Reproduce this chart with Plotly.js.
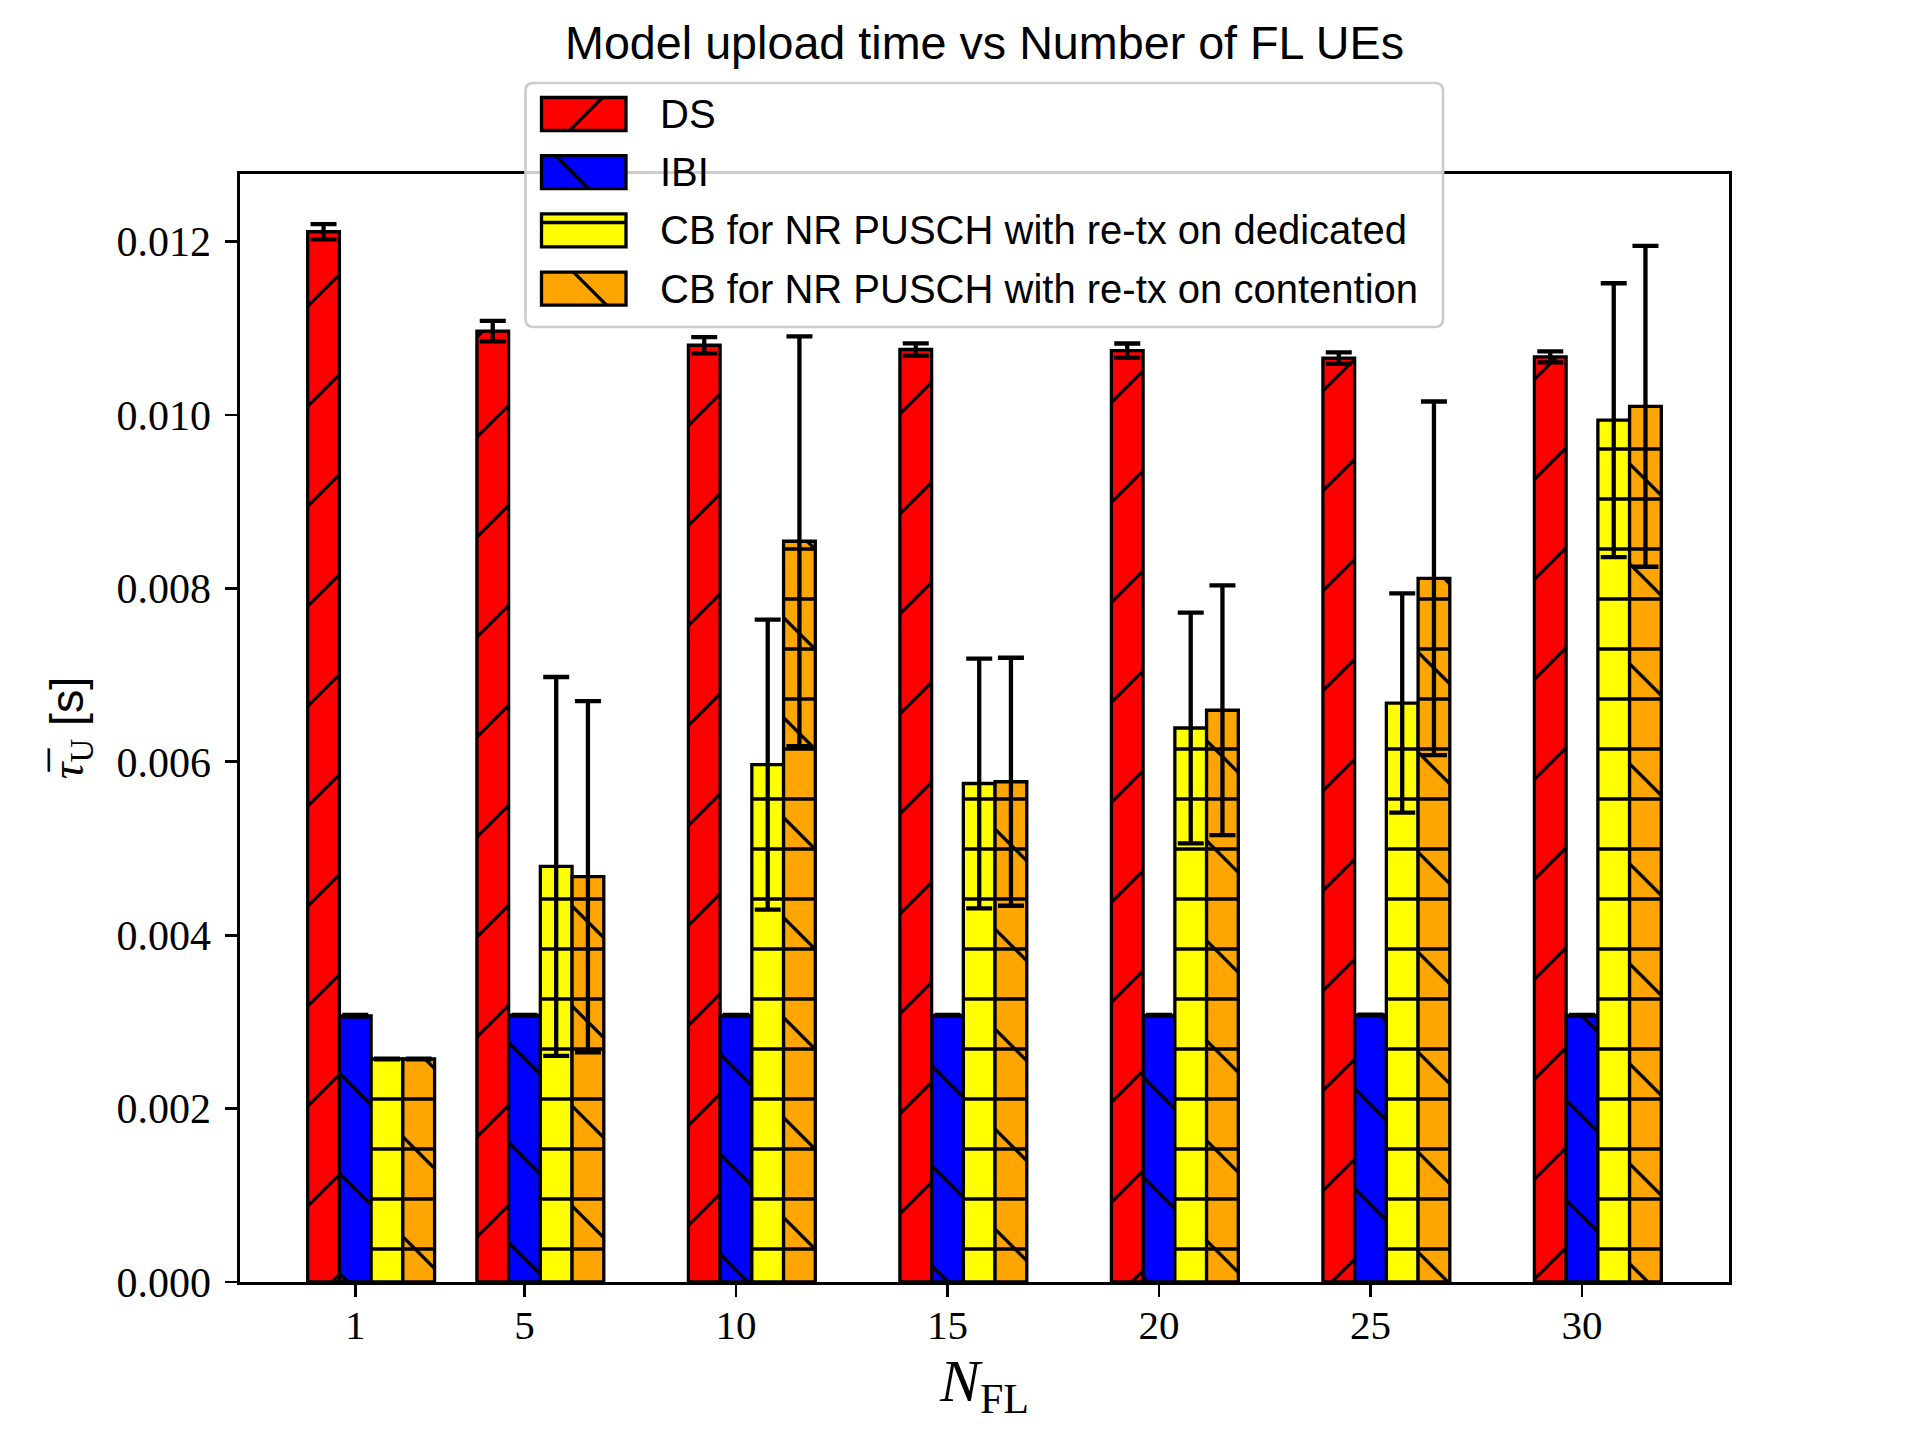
<!DOCTYPE html>
<html>
<head>
<meta charset="utf-8">
<script src="https://cdn.plot.ly/plotly-3.0.1.min.js"></script>
<style>body{margin:0;background:#fff}</style>
</head>
<body>
<div id="chart" style="width:1920px;height:1440px"></div>
<script>
// number of FL UEs on the x axis
var nFL = [1, 5, 10, 15, 20, 25, 30];
var seriesNames = ['DS', 'IBI', 'CB for NR PUSCH with re-tx on dedicated', 'CB for NR PUSCH with re-tx on contention'];

// mean upload time [s] and error bar half-heights
var dsMean = [0.012114, 0.010968, 0.010805, 0.010756, 0.010743, 0.010657, 0.010671];
var dsErr = [0.000087, 0.000118, 0.000094, 0.000070, 0.000082, 0.000066, 0.000064];
var ibiMean = [0.003070, 0.003075, 0.003075, 0.003075, 0.003075, 0.003080, 0.003075];
var ibiErr = [0.000010, 0.000005, 0.000005, 0.000005, 0.000005, 0.000005, 0.000005];
var cbDedMean = [0.002572, 0.004793, 0.005968, 0.005750, 0.006390, 0.006678, 0.009940];
var cbDedErr = [0.000005, 0.002185, 0.001673, 0.001440, 0.001330, 0.001264, 0.001580];
var cbConMean = [0.002572, 0.004675, 0.008544, 0.005770, 0.006595, 0.008116, 0.010100];
var cbConErr = [0.000005, 0.002026, 0.002362, 0.001430, 0.001440, 0.002040, 0.001850];

var yTicks = [0, 0.002, 0.004, 0.006, 0.008, 0.010, 0.012];

var colors = ['#ff0000', '#0000ff', '#ffff00', '#ffa500'];
var offsets = [-1.125, -0.375, 0.375, 1.125];
var barWidth = 0.75;
var diag = {size: 70.7, solidity: 0.047};
var hatches = ['/', '\\', '-', '\\'];

function hatchOf(shape, bg) {
    var p = shape === '-' ? {size: 50, solidity: 0.066} : diag;
    return {shape: shape, fillmode: 'replace', bgcolor: bg, fgcolor: '#000000',
            fgopacity: 1, size: p.size, solidity: p.solidity};
}

function barTrace(i, y, err) {
    return {
        type: 'bar',
        name: seriesNames[i],
        x: nFL,
        y: y,
        width: barWidth,
        offset: offsets[i],
        marker: {
            color: colors[i],
            line: {color: '#000000', width: 3.3},
            pattern: hatchOf(hatches[i], colors[i])
        },
        error_y: {type: 'data', array: err, visible: true, color: '#000000', thickness: 4.3, width: 13},
        hoverinfo: 'skip'
    };
}

var data = [
    barTrace(0, dsMean, dsErr),
    barTrace(1, ibiMean, ibiErr),
    barTrace(2, cbDedMean, cbDedErr),
    barTrace(3, cbConMean, cbConErr),
    // second hatch layer on the contention bars
    {
        type: 'bar', x: nFL, y: cbConMean, width: barWidth, offset: offsets[3],
        marker: {color: 'rgba(0,0,0,0)', line: {width: 0}, pattern: hatchOf('-', 'rgba(0,0,0,0)')},
        hoverinfo: 'skip', showlegend: false
    }
];

// plot area in pixels, used to place the hand drawn legend
var L = 240, R = 1729, T = 174, B = 1282;
function fx(px) { return (px - L) / (R - L); }
function fy(py) { return (B - py) / (B - T); }

var shapes = [];
var annotations = [];

// legend frame with rounded corners
(function () {
    var x0 = 525.5, x1 = 1443, y0 = 83, y1 = 327, r = 8;
    var d = 'M' + fx(x0 + r) + ',' + fy(y0) +
        ' L' + fx(x1 - r) + ',' + fy(y0) + ' Q' + fx(x1) + ',' + fy(y0) + ' ' + fx(x1) + ',' + fy(y0 + r) +
        ' L' + fx(x1) + ',' + fy(y1 - r) + ' Q' + fx(x1) + ',' + fy(y1) + ' ' + fx(x1 - r) + ',' + fy(y1) +
        ' L' + fx(x0 + r) + ',' + fy(y1) + ' Q' + fx(x0) + ',' + fy(y1) + ' ' + fx(x0) + ',' + fy(y1 - r) +
        ' L' + fx(x0) + ',' + fy(y0 + r) + ' Q' + fx(x0) + ',' + fy(y0) + ' ' + fx(x0 + r) + ',' + fy(y0) + ' Z';
    shapes.push({type: 'path', xref: 'paper', yref: 'paper', path: d, layer: 'above',
        fillcolor: 'rgba(255,255,255,0.8)', line: {color: '#cccccc', width: 2.7}});
})();

seriesNames.forEach(function (name, i) {
    var cy = 114 + 58.2 * i;
    var px0 = 541.5, px1 = 626, top = cy - 16.5, bot = cy + 16.5;
    shapes.push({type: 'rect', xref: 'paper', yref: 'paper', layer: 'above',
        x0: fx(px0), x1: fx(px1), y0: fy(bot), y1: fy(top), fillcolor: colors[i], line: {width: 0}});
    var ln = {type: 'line', xref: 'paper', yref: 'paper', layer: 'above', line: {color: '#000000', width: 3.3}};
    if (hatches[i] === '-') {
        ln.x0 = fx(px0); ln.x1 = fx(px1); ln.y0 = fy(top + 8.6); ln.y1 = fy(top + 8.6);
    } else if (hatches[i] === '/') {
        ln.x0 = fx(px0 + 28); ln.y0 = fy(bot); ln.x1 = fx(px0 + 61); ln.y1 = fy(top);
    } else {
        var s = i === 1 ? 14 : 32;
        ln.x0 = fx(px0 + s); ln.y0 = fy(top); ln.x1 = fx(px0 + s + 33); ln.y1 = fy(bot);
    }
    shapes.push(ln);
    shapes.push({type: 'rect', xref: 'paper', yref: 'paper', layer: 'above',
        x0: fx(px0), x1: fx(px1), y0: fy(bot), y1: fy(top), fillcolor: 'rgba(0,0,0,0)',
        line: {color: '#000000', width: 3.3}});
    annotations.push({xref: 'paper', yref: 'paper', x: fx(658), y: fy(cy), xanchor: 'left', yanchor: 'middle',
        text: name, showarrow: false, font: {family: 'Liberation Sans', size: 40, color: '#000000'}});
});

var layout = {
    width: 1920,
    height: 1440,
    paper_bgcolor: '#ffffff',
    plot_bgcolor: '#ffffff',
    margin: {l: L, r: 1920 - R, t: T, b: 1440 - B, pad: 0},
    barmode: 'overlay',
    showlegend: false,
    title: {
        text: 'Model upload time vs Number of FL UEs',
        font: {family: 'Liberation Sans', size: 46.7, color: '#000000'},
        x: 0.5, xref: 'paper', xanchor: 'center',
        y: 1 - 43 / 1440, yref: 'container', yanchor: 'middle'
    },
    xaxis: {
        range: [-1.725, 33.475],
        tickvals: nFL,
        ticks: 'outside', ticklen: 12, tickwidth: 2.7, tickcolor: '#000000',
        ticklabelstandoff: -7,
        tickfont: {family: 'Liberation Serif', size: 41, color: '#000000'},
        showline: true, linecolor: '#000000', linewidth: 2.7, mirror: true,
        showgrid: false, zeroline: false,
        title: {text: '<i>N</i><sub>FL</sub>', standoff: 7,
            font: {family: 'Liberation Serif', size: 60, color: '#000000'}}
    },
    yaxis: {
        range: [0, 0.01278],
        tickvals: yTicks,
        tickformat: '.3f',
        ticks: 'outside', ticklen: 12, tickwidth: 2.7, tickcolor: '#000000',
        ticklabelstandoff: 6,
        tickfont: {family: 'Liberation Serif', size: 42, color: '#000000'},
        showline: true, linecolor: '#000000', linewidth: 2.7, mirror: true,
        showgrid: false, zeroline: false,
        title: {text: '<span style="font-family:Liberation Serif"><i>τ̅</i><sub>U</sub></span> [s]', standoff: 18,
            font: {family: 'Liberation Sans', size: 46.7, color: '#000000'}}
    },
    shapes: shapes,
    annotations: annotations
};

Plotly.newPlot('chart', data, layout, {staticPlot: true, displayModeBar: false});
</script>
</body>
</html>
